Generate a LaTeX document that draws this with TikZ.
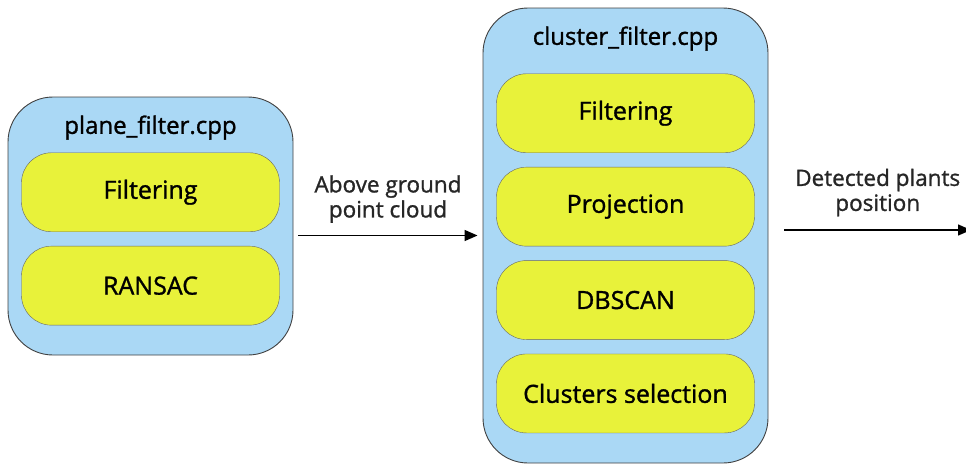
\documentclass[tikz,border=0pt]{standalone}
\usepackage{fontspec}
\setmainfont{Open Sans}[FakeBold=1.2]
\newfontfamily\heavyfont{Open Sans}[FakeBold=1.2]
\usetikzlibrary{positioning,arrows.meta}
\definecolor{boxblue}{RGB}{170,216,245}
\definecolor{stageyellow}{RGB}{232,242,58}
\begin{document}
\begin{tikzpicture}[x=1pt, y=-1pt, node distance=14pt,
            module/.style={draw=black!75, fill=boxblue, rounded corners=45pt, minimum width=285pt, line width=0.9pt},
            stage/.style={draw=black!60, fill=stageyellow, rounded corners=30pt, minimum width=258pt, minimum height=79pt, font=\heavyfont\fontsize{25}{28}\selectfont},
            modtitle/.style={font=\heavyfont\fontsize{24}{28}\selectfont},
            flowlabel/.style={font=\heavyfont\fontsize{22.5}{25}\selectfont, align=center, inner sep=0pt, text=black!85},
            flow/.style={line width=1.4pt, -{Triangle[length=13pt,width=11pt]}}]
            \useasboundingbox (0,0) rectangle (966,466);
            % modules
            \node[module, minimum height=258pt] (plane) at (150.5,226) {};
            \node[module, minimum height=455pt] (cluster) at (625.5,235.5) {};
            \node[modtitle] at ([yshift=-31pt]plane.north) {plane\_filter.cpp};
            \node[modtitle] at ([yshift=-31pt]cluster.north) {cluster\_filter.cpp};
            % stages
            \node[stage, below=56pt of plane.north] (pfilter) {Filtering};
            \node[stage, below=of pfilter] (ransac) {RANSAC};
            \node[stage, below=66pt of cluster.north] (cfilter) {Filtering};
            \node[stage, below=of cfilter] (projection) {Projection};
            \node[stage, below=of projection] (dbscan) {DBSCAN};
            \node[stage, below=of dbscan] (selection) {Clusters selection};
            % data flow
            \coordinate (out) at (971,230);
            \draw[flow] ([xshift=5pt]plane.east |- cluster.west) -- ([xshift=-5pt]cluster.west)
              node[flowlabel, midway, above=12pt] {Above ground\\point cloud};
            \draw[flow] ([xshift=16pt]cluster.east |- out) -- (out)
              node[flowlabel, midway, above=13pt] {Detected plants\\position};
          \end{tikzpicture}
\end{document}
